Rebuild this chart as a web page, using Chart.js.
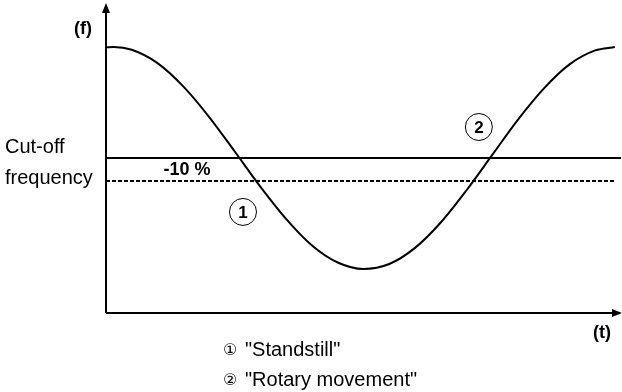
<!DOCTYPE html>
<html>
<head>
<meta charset="utf-8">
<script src="https://cdn.jsdelivr.net/npm/chart.js@4"></script>
<style>
html,body{margin:0;padding:0;background:#fff;}
canvas{display:block;}
</style>
</head>
<body>
<canvas id="c" width="622" height="392"></canvas>
<script>
// time (t) positions, 0..100
const tValues = [0, 1.5, 5, 10, 15, 20, 25, 30, 35, 40, 45, 50, 55, 60, 65, 70, 75, 80, 85, 90, 95, 98.8];
// frequency (f) values, 0..100
const fValues = [85.7, 85.8, 84.9, 80.6, 73.1, 63.3, 52.1, 40.7, 30.3, 21.8, 16.3, 14.2, 15.8, 21.0, 29.2, 39.6, 51.0, 62.4, 72.4, 80.2, 84.7, 85.8];
const cutoffLevel = 50;
const minus10Level = 42.6;
const cutoffRange = [0, 100];
const minus10Range = [0, 98.8];
const markerLabels = ["1", "2"];
const markerT = [26.6, 72.4];
const markerF = [32.6, 60.0];
const legendMarks = ['\u2460', '\u2461'];
const legendTexts = ['"Standstill"', '"Rotary movement"'];

const curve = tValues.map((t, i) => ({x: t, y: fValues[i]}));

const overlay = {
  id: 'overlay',
  afterDraw(chart) {
    const ctx = chart.ctx;
    const xs = chart.scales.x, ys = chart.scales.y;
    const ca = chart.chartArea;
    ctx.save();
    ctx.strokeStyle = '#000';
    ctx.fillStyle = '#000';
    ctx.lineWidth = 2;
    // y axis
    const ax = xs.getPixelForValue(0);
    const ay = ys.getPixelForValue(0);
    ctx.beginPath();
    ctx.moveTo(ax, ay);
    ctx.lineTo(ax, ca.top + 8);
    ctx.stroke();
    ctx.beginPath();
    ctx.moveTo(ax, ca.top);
    ctx.lineTo(ax - 4, ca.top + 10);
    ctx.lineTo(ax + 4, ca.top + 10);
    ctx.closePath();
    ctx.fill();
    // x axis
    const right = chart.width;
    ctx.beginPath();
    ctx.moveTo(ax, ay);
    ctx.lineTo(right - 8, ay);
    ctx.stroke();
    ctx.beginPath();
    ctx.moveTo(right, ay);
    ctx.lineTo(right - 10, ay - 4);
    ctx.lineTo(right - 10, ay + 4);
    ctx.closePath();
    ctx.fill();

    const sans = '"Liberation Sans", Arial, "DejaVu Sans", sans-serif';
    // axis labels
    ctx.font = 'bold 18px ' + sans;
    ctx.textAlign = 'right';
    ctx.textBaseline = 'middle';
    ctx.fillText('(f)', 92, 29);
    ctx.textAlign = 'center';
    ctx.fillText('(t)', 602, 333);
    // cut-off label
    ctx.font = '20px ' + sans;
    ctx.textAlign = 'left';
    ctx.textBaseline = 'alphabetic';
    ctx.fillText('Cut-off', 5, 153);
    ctx.fillText('frequency', 5, 184);
    // -10 %
    ctx.font = 'bold 18px ' + sans;
    ctx.textAlign = 'center';
    ctx.fillText('-10 %', 187, 175);
    // markers
    ctx.lineWidth = 1;
    markerLabels.forEach((lab, i) => {
      const px = xs.getPixelForValue(markerT[i]);
      const py = ys.getPixelForValue(markerF[i]);
      ctx.beginPath();
      ctx.arc(px, py, 13.5, 0, Math.PI * 2);
      ctx.stroke();
      ctx.font = 'bold 17px ' + sans;
      ctx.textAlign = 'center';
      ctx.textBaseline = 'middle';
      ctx.fillText(lab, px, py + 1);
    });
    // legend
    const baselines = [356, 386];
    ctx.textAlign = 'left';
    ctx.textBaseline = 'alphabetic';
    legendTexts.forEach((txt, i) => {
      ctx.font = '16px "DejaVu Sans", sans-serif';
      ctx.fillText(legendMarks[i], 223, baselines[i] - 1);
      ctx.font = '20px ' + sans;
      ctx.fillText(txt, 245, baselines[i]);
    });
    ctx.restore();
  }
};

new Chart(document.getElementById('c'), {
  type: 'scatter',
  data: {
    datasets: [
      {
        data: curve, showLine: true, borderColor: '#000', borderWidth: 2,
        pointRadius: 0, cubicInterpolationMode: 'monotone', clip: false
      },
      {
        data: cutoffRange.map(t => ({x: t, y: cutoffLevel})), showLine: true,
        borderColor: '#000', borderWidth: 2, pointRadius: 0, clip: false
      },
      {
        data: minus10Range.map(t => ({x: t, y: minus10Level})), showLine: true,
        borderColor: '#000', borderWidth: 2, borderDash: [4, 2], pointRadius: 0, clip: false
      }
    ]
  },
  options: {
    responsive: false,
    animation: false,
    devicePixelRatio: 1,
    layout: {padding: {left: 106, right: 1, top: 3, bottom: 79}},
    plugins: {legend: {display: false}, tooltip: {enabled: false}},
    scales: {
      x: {type: 'linear', min: 0, max: 100, display: false},
      y: {type: 'linear', min: 0, max: 100, display: false}
    }
  },
  plugins: [overlay]
});
</script>
</body>
</html>
